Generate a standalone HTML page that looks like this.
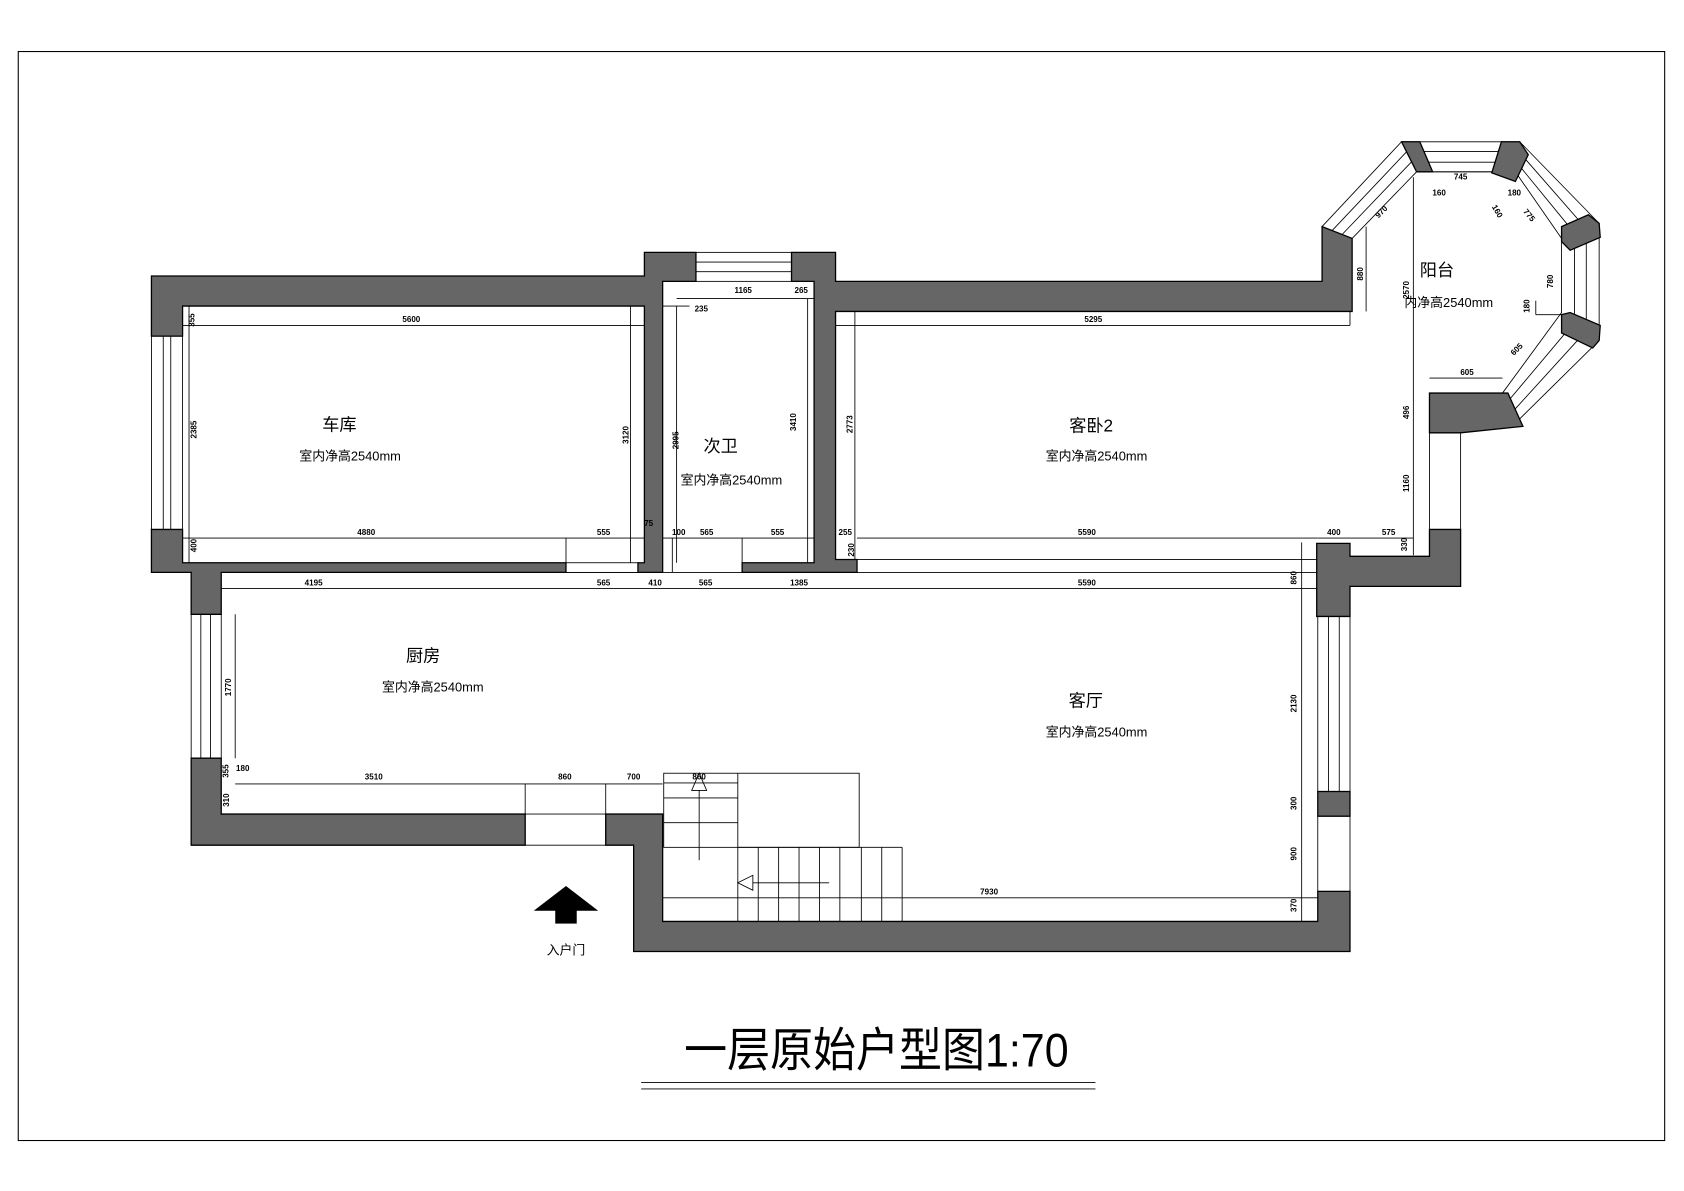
<!DOCTYPE html>
<html><head><meta charset="utf-8"><style>
html,body{margin:0;padding:0;background:#fff;}
svg{display:block;}
text{font-family:"Liberation Sans","Noto Sans CJK SC",sans-serif;}
.d{font-size:7.5px;font-weight:bold;fill:#000;}
.r{font-size:16px;fill:#000;}
.h{font-size:12px;fill:#000;}
</style></head><body>
<svg width="1684" height="1191" viewBox="0 0 1568 1109" preserveAspectRatio="none" xmlns="http://www.w3.org/2000/svg">
<rect x="0" y="0" width="1568" height="1109" fill="#fff"/>
<rect x="17" y="48" width="1533" height="1014" fill="none" stroke="#000" stroke-width="1"/>

<g stroke="#000" stroke-width="0.8" fill="none">
<rect x="141" y="313" width="29" height="180"/>
<line x1="152" y1="313" x2="152" y2="493"/><line x1="159" y1="313" x2="159" y2="493"/>
<rect x="178" y="572" width="28" height="134"/>
<line x1="187" y1="572" x2="187" y2="706"/><line x1="196" y1="572" x2="196" y2="706"/><line x1="219" y1="572" x2="219" y2="706"/>
<rect x="648" y="235" width="89" height="27"/>
<line x1="648" y1="244" x2="737" y2="244"/><line x1="648" y1="253" x2="737" y2="253"/>
<rect x="1227" y="574" width="30" height="163"/>
<line x1="1237" y1="574" x2="1237" y2="737"/><line x1="1247" y1="574" x2="1247" y2="737"/>
<rect x="1227" y="760" width="30" height="70"/>
<line x1="1212" y1="505" x2="1212" y2="858"/>
<line x1="170" y1="303" x2="600" y2="303"/>
<line x1="170" y1="501" x2="600" y2="501"/>
<line x1="176" y1="285" x2="176" y2="524"/>
<line x1="587" y1="285" x2="587" y2="524"/>
<rect x="527" y="524" width="67" height="9"/>
<line x1="527" y1="501" x2="527" y2="524"/>
<line x1="630" y1="278" x2="758" y2="278"/>
<line x1="630" y1="285" x2="630" y2="524"/>
<line x1="617" y1="285" x2="642" y2="285"/>
<line x1="752" y1="278" x2="752" y2="524"/>
<line x1="617" y1="501" x2="758" y2="501"/>
<line x1="691" y1="501" x2="691" y2="533"/>
<line x1="626" y1="501" x2="626" y2="533"/>
<line x1="778" y1="303" x2="1257" y2="303"/>
<line x1="796" y1="290" x2="796" y2="533"/>
<line x1="798" y1="501" x2="1227" y2="501"/>
<line x1="798" y1="521" x2="1227" y2="521"/>
<line x1="1227" y1="501" x2="1316" y2="501"/>
<line x1="1257" y1="290" x2="1257" y2="303"/>
<line x1="206" y1="548" x2="1227" y2="548"/>
<line x1="206" y1="533" x2="1227" y2="533"/>
<line x1="219" y1="730" x2="617" y2="730"/>
<rect x="489" y="758" width="75" height="29"/>
<line x1="489" y1="730" x2="489" y2="758"/><line x1="564" y1="730" x2="564" y2="758"/>
<line x1="617" y1="836" x2="1227" y2="836"/>
<line x1="1272" y1="211" x2="1272" y2="290"/>
<line x1="1316" y1="165" x2="1316" y2="517"/>
<line x1="1331" y1="403" x2="1331" y2="493"/>
<line x1="1360" y1="403" x2="1360" y2="493"/>
<line x1="1331" y1="352" x2="1399" y2="352"/>
<polyline points="1231,211 1305,132 1415,132 1489,208 1489,317 1411,394"/>
<polyline points="1240,215 1310,141 1414,141 1477,213 1477,308 1407,385"/>
<polyline points="1250,218 1314,151 1412,151 1466,217 1466,300 1403,375"/>
<polyline points="1259,222 1319,160 1411,160 1454,222 1454,291 1399,366"/>
<line x1="1319" y1="160" x2="1411" y2="160"/>
<line x1="1430" y1="293" x2="1454" y2="293"/><line x1="1430" y1="280" x2="1430" y2="293"/>
<rect x="618" y="720" width="182" height="69"/>
<line x1="618" y1="729" x2="687" y2="729"/><line x1="618" y1="743" x2="687" y2="743"/><line x1="618" y1="766" x2="687" y2="766"/>
<line x1="687" y1="720" x2="687" y2="858"/>
<line x1="687" y1="789" x2="840" y2="789"/>
<line x1="706" y1="789" x2="706" y2="858"/><line x1="725" y1="789" x2="725" y2="858"/><line x1="744" y1="789" x2="744" y2="858"/><line x1="763" y1="789" x2="763" y2="858"/><line x1="782" y1="789" x2="782" y2="858"/><line x1="802" y1="789" x2="802" y2="858"/><line x1="821" y1="789" x2="821" y2="858"/><line x1="840" y1="789" x2="840" y2="858"/>
<line x1="651" y1="736" x2="651" y2="801"/>
<polygon points="651,720 644,736 658,736"/>
<line x1="701" y1="822" x2="772" y2="822"/>
<polygon points="687,822 701,815 701,829"/>
<line x1="597" y1="1008" x2="1020" y2="1008"/>
<line x1="597" y1="1014" x2="1020" y2="1014"/>
</g>

<g fill="#666" stroke="#000" stroke-width="1.2">
<polygon points="141,257 600,257 600,235 648,235 648,262 617,262 617,533 594,533 594,524 600,524 600,285 170,285 170,313 141,313"/>
<polygon points="141,493 170,493 170,524 527,524 527,533 206,533 206,572 178,572 178,533 141,533"/>
<polygon points="737,235 778,235 778,262 1231,262 1231,211 1259,222 1259,290 778,290 778,521 798,521 798,533 691,533 691,524 758,524 758,262 737,262"/>
<polygon points="178,706 206,706 206,758 489,758 489,787 178,787"/>
<polygon points="564,758 617,758 617,858 1227,858 1227,830 1257,830 1257,886 590,886 590,787 564,787"/>
<rect x="1227" y="737" width="30" height="23"/>
<polygon points="1226,506 1257,506 1257,518 1331,518 1331,493 1360,493 1360,546 1257,546 1257,574 1226,574"/>
<polygon points="1331,366 1404,366 1418,397 1360,403 1331,403"/>
<polygon points="1305,132 1322,132 1334,160 1319,160 1314,150"/>
<polygon points="1398,132 1415,132 1423,144 1411,169 1389,161"/>
<polygon points="1454,211 1479,200 1489,208 1490,221 1462,233 1454,225"/>
<polygon points="1454,293 1462,291 1490,303 1489,317 1483,324 1454,310"/>
</g>

<polygon points="497,848 527,825 557,848" fill="#000"/>
<rect x="517" y="847" width="20" height="13" fill="#000"/>
<text x="527" y="889" class="h" text-anchor="middle" font-size="15">入户门</text>

<g text-anchor="middle">
<text x="316" y="401" class="r">车库</text>
<text x="326" y="429" class="h">室内净高2540mm</text>
<text x="671" y="421" class="r">次卫</text>
<text x="681" y="451" class="h">室内净高2540mm</text>
<text x="1016" y="402" class="r">客卧2</text>
<text x="1021" y="429" class="h">室内净高2540mm</text>
<text x="394" y="616" class="r">厨房</text>
<text x="403" y="644" class="h">室内净高2540mm</text>
<text x="1011" y="658" class="r">客厅</text>
<text x="1021" y="686" class="h">室内净高2540mm</text>
<text x="1338" y="257" class="r">阳台</text>
<text x="1349" y="286" class="h">内净高2540mm</text>
</g>

<g class="d" text-anchor="middle">
<text x="383" y="300">5600</text>
<text x="341" y="498">4880</text>
<text x="562" y="498">555</text>
<text x="604" y="490">75</text>
<text x="692" y="273">1165</text>
<text x="746" y="273">265</text>
<text x="653" y="290">235</text>
<text x="632" y="498">100</text>
<text x="658" y="498">565</text>
<text x="724" y="498">555</text>
<text x="1018" y="300">5295</text>
<text x="787" y="498">255</text>
<text x="1012" y="498">5590</text>
<text x="1242" y="498">400</text>
<text x="1293" y="498">575</text>
<text x="292" y="545">4195</text>
<text x="562" y="545">565</text>
<text x="610" y="545">410</text>
<text x="657" y="545">565</text>
<text x="744" y="545">1385</text>
<text x="1012" y="545">5590</text>
<text x="348" y="726">3510</text>
<text x="526" y="726">860</text>
<text x="590" y="726">700</text>
<text x="651" y="726">860</text>
<text x="226" y="718">180</text>
<text x="921" y="833">7930</text>
<text x="1360" y="167">745</text>
<text x="1340" y="182">160</text>
<text x="1410" y="182">180</text>
<text x="1366" y="349">605</text>
<text x="1392" y="198" transform="rotate(60 1392 198)">160</text>
<text x="1422" y="202" transform="rotate(50 1422 202)">775</text>
<text x="1288" y="199" transform="rotate(-45 1288 199)">970</text>
<text x="1414" y="327" transform="rotate(-45 1414 327)">605</text>
<text x="181" y="298" transform="rotate(-90 181 298)">355</text>
<text x="183" y="400" transform="rotate(-90 183 400)">2385</text>
<text x="585" y="405" transform="rotate(-90 585 405)">3120</text>
<text x="183" y="508" transform="rotate(-90 183 508)">400</text>
<text x="632" y="410" transform="rotate(-90 632 410)">2995</text>
<text x="741" y="393" transform="rotate(-90 741 393)">3410</text>
<text x="794" y="395" transform="rotate(-90 794 395)">2773</text>
<text x="795" y="512" transform="rotate(-90 795 512)">230</text>
<text x="1310" y="507" transform="rotate(-90 1310 507)">330</text>
<text x="1207" y="538" transform="rotate(-90 1207 538)">860</text>
<text x="215" y="640" transform="rotate(-90 215 640)">1770</text>
<text x="213" y="718" transform="rotate(-90 213 718)">355</text>
<text x="213" y="745" transform="rotate(-90 213 745)">310</text>
<text x="1207" y="655" transform="rotate(-90 1207 655)">2130</text>
<text x="1207" y="748" transform="rotate(-90 1207 748)">300</text>
<text x="1207" y="795" transform="rotate(-90 1207 795)">900</text>
<text x="1207" y="843" transform="rotate(-90 1207 843)">370</text>
<text x="1269" y="255" transform="rotate(-90 1269 255)">880</text>
<text x="1312" y="270" transform="rotate(-90 1312 270)">2570</text>
<text x="1312" y="384" transform="rotate(-90 1312 384)">496</text>
<text x="1312" y="450" transform="rotate(-90 1312 450)">1160</text>
<text x="1424" y="285" transform="rotate(-90 1424 285)">180</text>
<text x="1446" y="262" transform="rotate(-90 1446 262)">780</text>
</g>

<text x="637" y="993" font-size="44" fill="#000" textLength="358" lengthAdjust="spacingAndGlyphs">一层原始户型图1:70</text>
</svg>
</body></html>
